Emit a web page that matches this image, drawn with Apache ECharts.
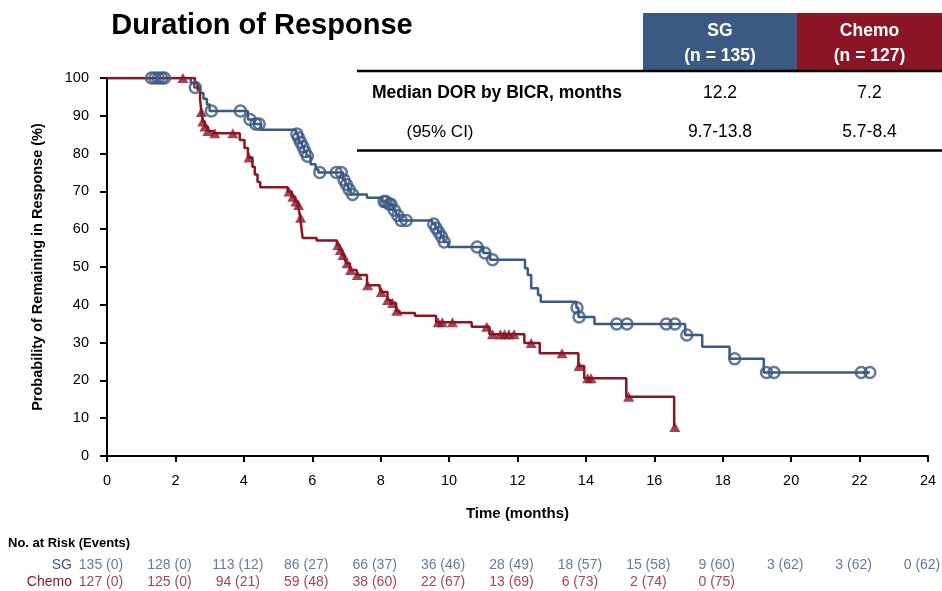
<!DOCTYPE html>
<html><head><meta charset="utf-8">
<script src="https://cdn.jsdelivr.net/npm/echarts@6/dist/echarts.min.js"></script>
<style>html,body{margin:0;padding:0;background:#fff}#c{width:942px;height:591px}</style>
</head><body><div id="c"></div>
<script>
const BLUE = '#3b5a82', RED = '#8b1525';
const FONT = '"Liberation Sans", Arial, sans-serif';

// Kaplan-Meier step points [months, % remaining in response]
const sgSteps = [[0,100],[2.45,98.7],[2.55,97.5],[2.72,96.0],[2.82,94.5],[2.92,93.0],[3.0,91.3],
  [4.12,89.0],[4.3,87.8],[4.5,86.3],[5.52,85.2],[5.58,84.2],[5.63,83.0],[5.7,81.8],[5.76,80.5],[5.83,79.3],
  [5.95,77.2],[6.1,75.8],[6.18,75.0],[6.9,73.0],[6.97,71.8],[7.05,70.5],[7.12,69.2],[7.6,68.3],
  [8.05,67.3],[8.2,66.6],[8.35,65.0],[8.45,63.6],[8.55,62.3],[9.5,61.4],[9.6,60.3],[9.68,59.2],
  [9.76,58.0],[9.84,56.6],[9.98,55.3],[11.0,53.7],[11.2,51.9],[12.22,49.7],[12.3,47.9],[12.4,44.4],
  [12.6,42.6],[12.68,40.8],[13.72,39.2],[13.78,36.8],[14.25,34.9],[16.9,32.0],[17.4,28.9],[18.2,25.7],
  [19.2,22.1],[22.3,22.1]];
const sgCensored = [[1.3,100],[1.4,100],[1.5,100],[1.6,100],[1.68,100],[2.58,97.5],[3.05,91.3],[3.9,91.3],
  [4.18,89.0],[4.35,87.8],[4.45,87.8],[5.55,85.2],[5.6,84.2],[5.66,83.0],[5.73,81.8],[5.79,80.5],[5.86,79.3],
  [6.22,75.0],[6.7,75.0],[6.85,75.0],[6.93,73.0],[7.0,71.8],[7.08,70.5],[7.18,69.2],[8.1,67.3],[8.15,67.3],
  [8.25,66.6],[8.3,66.6],[8.4,65.0],[8.5,63.6],[8.6,62.3],[8.75,62.3],[9.55,61.4],[9.62,60.3],[9.7,59.2],
  [9.78,58.0],[9.86,56.6],[10.82,55.3],[11.05,53.7],[11.27,51.9],[13.74,39.2],[13.8,36.8],[14.9,34.9],
  [15.2,34.9],[16.35,34.9],[16.6,34.9],[16.95,32.0],[18.35,25.7],[19.28,22.1],[19.5,22.1],[22.05,22.1],[22.3,22.1]];
const chemoSteps = [[0,100],[2.57,98.7],[2.65,96.8],[2.72,94.5],[2.76,91.0],[2.8,88.5],[2.86,87.2],[2.95,86.0],
  [3.1,85.4],[3.88,83.6],[4.02,81.5],[4.12,79.0],[4.25,76.5],[4.32,74.5],[4.4,72.5],[4.48,71.1],
  [5.28,70.0],[5.4,68.6],[5.5,67.3],[5.58,66.4],[5.62,64.5],[5.65,63.0],[5.68,60.5],[5.72,57.7],[6.13,57.0],
  [6.72,55.8],[6.8,54.5],[6.88,53.2],[6.95,52.0],[7.0,51.0],[7.1,49.2],[7.3,47.9],[7.6,45.2],[7.97,44.6],
  [8.0,43.4],[8.2,41.3],[8.3,40.5],[8.45,38.4],[8.55,37.8],[9.0,37.1],[9.62,35.4],[10.66,34.2],[11.18,32.2],
  [12.2,29.9],[12.65,27.2],[13.78,23.8],[13.95,20.6],[15.18,15.7],[16.58,7.7]];
const chemoCensored = [[2.22,100],[2.76,91.0],[2.8,88.5],[2.86,87.2],[2.95,86.0],[3.15,85.4],[3.68,85.4],
  [4.15,79.0],[5.32,70.0],[5.43,68.6],[5.52,67.3],[5.6,66.4],[5.66,63.0],[6.75,55.8],[6.82,54.5],[6.9,53.2],
  [7.02,51.0],[7.12,49.2],[7.32,47.9],[7.62,45.2],[8.02,43.4],[8.2,41.3],[8.35,40.5],[8.47,38.4],
  [9.68,35.4],[9.8,35.4],[10.1,35.4],[11.1,34.2],[11.27,32.2],[11.5,32.2],[11.62,32.2],[11.75,32.2],[11.9,32.2],
  [12.4,29.9],[13.3,27.2],[13.8,23.8],[14.05,20.6],[14.15,20.6],[15.25,15.7],[16.6,7.7]];

// Number at risk table
const riskTimes = [0,2,4,6,8,10,12,14,16,18,20,22,24];
const sgAtRisk = [135,128,113,86,66,36,28,18,15,9,3,3,0];
const sgEvents = [0,0,12,27,37,46,49,57,58,60,62,62,62];
const chemoAtRisk = [127,125,94,59,38,22,13,6,2,0];
const chemoEvents = [0,0,21,48,60,67,69,73,74,75];

// Summary table
const armNames = ['SG','Chemo'];
const armN = [135,127];
const medianDOR = ['12.2','7.2'];
const ci95 = ['9.7-13.8','5.7-8.4'];

const chart = echarts.init(document.getElementById('c'), null, {renderer:'canvas'});

const riskSg = sgAtRisk.map((n,i)=>[riskTimes[i],'SG',n,sgEvents[i]]);
const riskChemo = chemoAtRisk.map((n,i)=>[riskTimes[i],'Chemo',n,chemoEvents[i]]);

const colX = [720, 869.5];
const graphics = [
  {type:'text', x:262, y:26, style:{text:'Duration of Response', font:'bold 29px '+FONT, fill:'#000', textAlign:'center', textVerticalAlign:'middle'}},
  {type:'rect', shape:{x:643,y:13,width:154,height:57}, style:{fill:BLUE}},
  {type:'rect', shape:{x:797,y:13,width:145,height:57}, style:{fill:RED}},
  {type:'line', shape:{x1:357,y1:71,x2:942,y2:71}, style:{stroke:'#000', lineWidth:2.5}},
  {type:'line', shape:{x1:357,y1:150.5,x2:942,y2:150.5}, style:{stroke:'#000', lineWidth:2.5}},
  {type:'text', x:372, y:93, style:{text:'Median DOR by BICR, months', font:'bold 17.5px '+FONT, fill:'#000', textAlign:'left', textVerticalAlign:'middle'}},
  {type:'text', x:440, y:132, style:{text:'(95% CI)', font:'17px '+FONT, fill:'#000', textAlign:'center', textVerticalAlign:'middle'}},
  {type:'text', x:8, y:543, style:{text:'No. at Risk (Events)', font:'bold 13px '+FONT, fill:'#000', textAlign:'left', textVerticalAlign:'middle'}}
];
armNames.forEach((nm,i)=>{
  graphics.push({type:'text', x:colX[i], y:31, style:{text:nm, font:'bold 17.5px '+FONT, fill:'#fff', textAlign:'center', textVerticalAlign:'middle'}});
  graphics.push({type:'text', x:colX[i], y:56, style:{text:'(n = '+armN[i]+')', font:'bold 17.5px '+FONT, fill:'#fff', textAlign:'center', textVerticalAlign:'middle'}});
  graphics.push({type:'text', x:colX[i], y:93, style:{text:medianDOR[i], font:'17.5px '+FONT, fill:'#000', textAlign:'center', textVerticalAlign:'middle'}});
  graphics.push({type:'text', x:colX[i], y:132, style:{text:ci95[i], font:'17.5px '+FONT, fill:'#000', textAlign:'center', textVerticalAlign:'middle'}});
});

chart.setOption({
  animation:false,
  backgroundColor:'#fff',
  textStyle:{fontFamily:FONT},
  grid:[
    {left:107, right:14, top:78, bottom:135, containLabel:false},
    {left:107, right:14, top:556, height:36, containLabel:false}
  ],
  xAxis:[
    {gridIndex:0, type:'value', min:0, max:24, interval:2,
     name:'Time (months)', nameLocation:'middle', nameGap:50,
     nameTextStyle:{fontFamily:FONT, fontWeight:'bold', fontSize:15, color:'#000'},
     axisLine:{lineStyle:{color:'#000', width:2}},
     axisTick:{show:true, length:6, lineStyle:{color:'#000', width:2}},
     axisLabel:{color:'#000', fontSize:14.5, fontFamily:FONT, margin:17},
     splitLine:{show:false}},
    {gridIndex:1, type:'value', min:0, max:24, interval:2, show:false}
  ],
  yAxis:[
    {gridIndex:0, type:'value', min:0, max:100, interval:10,
     name:'Probability of Remaining in Response (%)', nameLocation:'middle', nameGap:62,
     nameTextStyle:{fontFamily:FONT, fontWeight:'bold', fontSize:14.5, color:'#000'},
     axisLine:{show:true, lineStyle:{color:'#000', width:2}},
     axisTick:{show:true, length:7, lineStyle:{color:'#000', width:2}},
     axisLabel:{color:'#000', fontSize:14.5, fontFamily:FONT, margin:18},
     splitLine:{show:false}},
    {gridIndex:1, type:'category', data:['Chemo','SG'],
     axisLine:{show:false}, axisTick:{show:false}, splitLine:{show:false},
     axisLabel:{interval:0, margin:35, fontSize:14, fontFamily:FONT,
       formatter:v=> v==='SG' ? '{sg|SG}' : '{ch|Chemo}',
       rich:{sg:{color:BLUE, fontSize:14, fontFamily:FONT}, ch:{color:RED, fontSize:14, fontFamily:FONT}}}}
  ],
  series:[
    {type:'line', name:'SG', xAxisIndex:0, yAxisIndex:0, step:'end', data:sgSteps, symbol:'none',
     lineStyle:{color:BLUE, width:2.5}, z:3},
    {type:'line', name:'Chemo', xAxisIndex:0, yAxisIndex:0, step:'end', data:chemoSteps, symbol:'none',
     lineStyle:{color:RED, width:2.5}, z:3},
    {type:'scatter', name:'SG censored', xAxisIndex:0, yAxisIndex:0, data:sgCensored, symbol:'circle', symbolSize:11,
     itemStyle:{color:'rgba(255,255,255,0)', borderColor:BLUE, borderWidth:2.5}, z:4},
    {type:'scatter', name:'Chemo censored', xAxisIndex:0, yAxisIndex:0, data:chemoCensored, symbol:'triangle', symbolSize:[11,10],
     itemStyle:{color:RED}, z:5},
    {type:'scatter', xAxisIndex:1, yAxisIndex:1, data:riskSg, symbolSize:1, itemStyle:{color:'rgba(0,0,0,0)'},
     label:{show:true, position:'inside', offset:[-6,0], color:BLUE, fontSize:14, fontFamily:FONT,
       formatter:p=>p.value[2]+' ('+p.value[3]+')'}},
    {type:'scatter', xAxisIndex:1, yAxisIndex:1, data:riskChemo, symbolSize:1, itemStyle:{color:'rgba(0,0,0,0)'},
     label:{show:true, position:'inside', offset:[-6,0], color:RED, fontSize:14, fontFamily:FONT,
       formatter:p=>p.value[2]+' ('+p.value[3]+')'}}
  ],
  graphic:graphics
});
</script>
</body></html>
